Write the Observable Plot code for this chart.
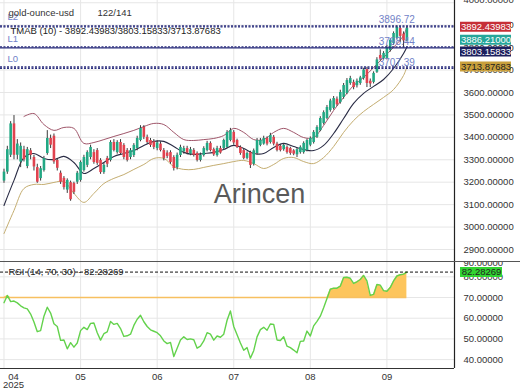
<!DOCTYPE html>
<html><head><meta charset="utf-8">
<script src="https://cdn.jsdelivr.net/npm/d3@7"></script>
<script src="https://cdn.jsdelivr.net/npm/@observablehq/plot@0.6"></script>
<style>
body{margin:0;background:#fff;}
#chart{width:520px;height:390px;overflow:hidden;background:#fff;}
#chart svg{display:block;overflow:hidden;}
</style></head><body><div id="chart"></div>
<script>
// ---------- data ----------
const symbolName = "gold-ounce-usd";
const barCount = "122/141";
const watermark = "Arincen";
const monthIdx = [0, 23, 46, 69, 92, 115];
const monthLabels = ["04", "05", "06", "07", "08", "09"];
const yearLabel = "2025";
const priceTicks = [2900, 3000, 3100, 3200, 3300, 3400, 3500, 3600, 3700, 3800, 3900, 4000];
const rsiTicks = [40, 50, 60, 70, 80];
const rsiTopLabel = "90.00000";

const open = [3205,3245,3320,3460,3320,3290,3345,3270,3340,3310,
 3265,3216,3252,3328,3395,3405,3297,3240,3217,3165,
 3198,3194,3200,3208,3252,3275,3310,3332,3341,3297,
 3243,3306,3297,3377,3332,3377,3364,3341,3310,3319,
 3350,3386,3444,3400,3386,3380,3350,3370,3341,3330,
 3332,3310,3265,3319,3335,3350,3325,3342,3328,3297,
 3319,3341,3373,3345,3319,3350,3350,3355,3386,3422,
 3386,3355,3341,3306,3332,3280,3328,3364,3370,3395,
 3377,3400,3370,3360,3345,3355,3350,3340,3322,3332,
 3332,3341,3365,3377,3400,3430,3462,3484,3520,3529,
 3570,3555,3578,3596,3640,3645,3630,3640,3662,3702,
 3650,3645,3690,3765,3750,3752,3787,3818,3841,3885,
 3860,3830];
const high = [3258,3360,3470,3497,3390,3375,3360,3355,3350,3320,
 3280,3270,3315,3430,3410,3415,3305,3250,3225,3215,
 3205,3200,3248,3295,3320,3340,3365,3345,3350,3305,
 3285,3315,3385,3390,3385,3390,3372,3350,3350,3372,
 3405,3452,3452,3410,3395,3390,3385,3380,3350,3340,
 3340,3318,3330,3365,3360,3360,3355,3350,3335,3330,
 3358,3382,3380,3352,3360,3360,3392,3430,3440,3430,
 3392,3362,3350,3335,3338,3348,3395,3395,3405,3402,
 3418,3408,3378,3368,3372,3362,3356,3345,3352,3362,
 3380,3392,3402,3430,3452,3492,3518,3542,3570,3582,
 3580,3610,3640,3662,3672,3655,3660,3672,3708,3712,
 3660,3692,3755,3790,3782,3810,3840,3870,3896.72,3893,
 3870,3892];
const low = [3195,3235,3310,3300,3300,3265,3290,3260,3300,3250,
 3195,3205,3245,3320,3350,3280,3250,3190,3165,3150,
 3115,3145,3190,3200,3245,3265,3300,3280,3275,3235,
 3235,3265,3290,3335,3325,3320,3300,3290,3300,3310,
 3340,3380,3390,3370,3355,3345,3340,3335,3295,3305,
 3280,3250,3255,3310,3325,3322,3318,3312,3290,3290,
 3312,3335,3335,3315,3312,3325,3345,3350,3380,3365,
 3350,3320,3300,3300,3261,3272,3320,3358,3365,3362,
 3370,3362,3335,3335,3338,3325,3320,3318,3310,3325,
 3325,3335,3358,3370,3395,3425,3455,3478,3512,3522,
 3538,3548,3570,3590,3632,3612,3620,3632,3655,3622,
 3622,3638,3685,3740,3745,3745,3780,3810,3835,3823,
 3798.44,3825];
const close = [3245,3345,3460,3320,3370,3360,3300,3345,3320,3268,
 3200,3260,3305,3395,3365,3290,3262,3200,3176,3208,
 3122,3155,3240,3288,3310,3332,3355,3288,3284,3243,
 3275,3280,3377,3341,3377,3328,3310,3297,3341,3364,
 3395,3440,3400,3377,3364,3355,3375,3341,3306,3315,
 3288,3261,3320,3355,3350,3330,3345,3320,3297,3320,
 3350,3373,3341,3322,3350,3330,3386,3422,3430,3375,
 3355,3328,3306,3328,3275,3340,3386,3386,3395,3370,
 3408,3370,3341,3341,3364,3332,3328,3325,3345,3355,
 3373,3386,3395,3422,3444,3484,3510,3533,3562,3573,
 3545,3600,3631,3653,3662,3622,3650,3665,3700,3640,
 3638,3685,3745,3748,3774,3800,3832,3863,3890,3850,
 3830,3886.21];

// TMA band (10) sampled along the bars
const bandIdx = [0,3,6,9,12,15,18,21,24,27,30,33,36,39,42,45,48,51,54,57,60,63,66,69,72,75,78,81,84,87,90,93,96,99,102,105,108,111,114,117,120,121];
const upper = [null,null,3493,3506,3457,3431,3444,3440,3373,3377,3390,3404,3417,3431,3448,3462,3457,3422,3390,3386,3390,3395,3408,3440,3422,3390,3390,3422,3440,3422,3399,3399,3453,3520,3578,3631,3667,3711,3756,3801,3854,3892.44];
const mid = [3096,3208,3310,3328,3306,3301,3315,3288,3239,3261,3288,3315,3328,3341,3364,3382,3382,3359,3333,3324,3328,3333,3346,3364,3350,3328,3328,3355,3373,3359,3346,3341,3364,3417,3484,3551,3596,3627,3658,3707,3774,3803.16];
const lower = [2971,3074,3172,3190,3190,3199,3203,3150,3110,3150,3194,3217,3234,3257,3279,3306,3306,3270,3257,3257,3266,3275,3283,3292,3297,3283,3261,3279,3306,3310,3292,3283,3310,3359,3422,3475,3515,3547,3578,3613,3676,3713.88];

const rsi = [67.5,71,68,68.3,67.4,66,65,64.5,62,58.2,
 53.5,54,61,65.3,62.5,57.3,56,49.3,49.5,45.2,
 48.2,46,48,54,55.6,54.5,57.5,57.7,53,49.4,
 52.5,53.4,58.4,57,57.5,55,51.2,51.5,52.3,56.5,
 59.5,61.4,58.3,56,54.4,53.7,53,51.5,49,47.7,
 48.3,41.5,45.5,49.5,51,49.7,50,49.6,45.5,46.5,
 49,53,52.3,49.4,51.4,50.8,52.3,59,63.5,56,
 52,48,44.5,45.8,40.7,44.3,51,54.5,55.6,54.2,
 57.2,57,49.5,49.2,51,46.5,45.8,44.6,43.3,48.8,
 49,53.8,51.4,56.3,58.5,61,65,69.5,74,74.5,
 74.5,75.5,79.7,79.8,79.3,76.8,77.6,78.7,80.7,78,
 71,71.5,76.3,76,73.3,73,74.8,78,80.4,81,
 81.3,82.28269];

const levelNames = ["L2", "L1", "L0"];
const levelValues = [3896.72, 3798.44, 3707.39];
const levelText = ["3896.72", "3798.44", "3707.39"];
const tmabName = "TMAB (10)";
const tmabLast = [3892.43983, 3803.15833, 3713.87683];
const lastClose = 3886.21;
const rsiName = "RSI (14, 70, 30)";
const rsiLast = 82.28269;
const rsiLevel = 70;

// ---------- drawing ----------
const FONT = "'Liberation Sans', Arial, sans-serif";
const fmt5 = d3.format(".5f");
const xDomain = [-1.05, 135.3];
const frameW = 454;
const pxX = px => xDomain[0] + px * (xDomain[1] - xDomain[0]) / frameW; // label column helper
const GREEN = "#22a884", RED = "#e0434f", NAVY = "#2b2e7e", LBLUE = "#7282c8";

const bars = close.map((c, i) => ({i, o: open[i], h: high[i], l: low[i], c}));
const bands = bandIdx.map((i, k) => ({i, u: upper[k], m: mid[k], lo: lower[k]}));
const rsiRows = rsi.map((r, i) => ({i, r}));
const levels = levelNames.map((n, k) => ({n, v: levelValues[k], t: levelText[k]}));
const lastI = close.length - 1;
const topTick = priceTicks[priceTicks.length - 1];

const boxes = [
  {v: tmabLast[0], t: fmt5(tmabLast[0]), bg: "#c62f36", fg: "#fff", dy: 0},
  {v: lastClose, t: fmt5(lastClose), bg: "#26a69a", fg: "#fff", dy: 11.5},
  {v: tmabLast[1], t: fmt5(tmabLast[1]), bg: "#1d205e", fg: "#fff", dy: 4.6},
  {v: tmabLast[2], t: fmt5(tmabLast[2]), bg: "#c9a03c", fg: "#222", dy: -0.4}
];
const boxMarks = boxes.flatMap(b => [
  Plot.ruleY([b], {y: "v", x1: () => pxX(460), x2: () => pxX(511), stroke: b.bg, strokeWidth: 10, dy: b.dy}),
  Plot.text([b], {x: () => pxX(485.5), y: "v", text: "t", dy: b.dy, fill: b.fg, fontSize: 9.5})
]);

const p1 = Plot.plot({
  width: 520, height: 261,
  marginLeft: 0, marginRight: 66, marginTop: 0, marginBottom: 0,
  x: {domain: xDomain, axis: null},
  y: {domain: [2846.5, 4010], axis: null},
  style: {fontFamily: FONT, fontSize: "9.5px", color: "#333", background: "#fff", overflow: "hidden"},
  marks: [
    Plot.gridY(priceTicks, {stroke: "#e6e6e6", strokeOpacity: 1}),
    Plot.gridX(monthIdx, {stroke: "#e6e6e6", strokeOpacity: 1}),
    Plot.text([watermark], {text: d => d, frameAnchor: "middle", dx: 32, dy: 63, fontSize: 27, fill: "#5a5a5a"}),
    Plot.line(bands, {x: "i", y: "u", stroke: "#a0566a", strokeWidth: 1, curve: "catmull-rom"}),
    Plot.line(bands, {x: "i", y: "m", stroke: "#2a2c45", strokeWidth: 1.1, curve: "catmull-rom"}),
    Plot.line(bands, {x: "i", y: "lo", stroke: "#c4ad70", strokeWidth: 1, curve: "catmull-rom"}),
    Plot.ruleX(bars, {x: "i", y1: "l", y2: "h", stroke: "#3a3a3a", strokeWidth: 1}),
    Plot.ruleX(bars, {x: "i", y1: "o", y2: "c", stroke: d => d.c >= d.o ? GREEN : RED, strokeWidth: 2.6}),
    Plot.ruleY([tmabLast[0], tmabLast[1], tmabLast[2]], {stroke: NAVY, strokeWidth: 1.4, strokeDasharray: "2,1.5"}),
    Plot.ruleY([levelValues[0], levelValues[2]], {stroke: NAVY, strokeWidth: 1.4, strokeDasharray: "2,1.5"}),
    Plot.ruleY([levelValues[1]], {stroke: NAVY, strokeWidth: 1.2}),
    Plot.text(levels, {y: "v", text: "n", frameAnchor: "left", dx: 7, dy: -9, fill: LBLUE, fontSize: 9.5}),
    Plot.text(levels, {x: () => lastI, y: "v", text: "t", textAnchor: "end", dx: 8, dy: -6, fill: LBLUE, fontSize: 10}),
    Plot.text([symbolName], {text: d => d, frameAnchor: "top-left", dx: 8, dy: 12, lineAnchor: "middle", fill: "#333"}),
    Plot.text([barCount], {text: d => d, frameAnchor: "top-left", dx: 97, dy: 12, lineAnchor: "middle", fill: "#333"}),
    Plot.text([`${tmabName} - ${tmabLast.map(fmt5).join("/")}`], {text: d => d, frameAnchor: "top-left", dx: 10, dy: 30, lineAnchor: "middle", fill: "#222"}),
    Plot.axisY(priceTicks.filter(t => t !== topTick), {anchor: "right", tickSize: 0, tickPadding: 9, tickFormat: fmt5, label: null, fill: "#333"}),
    Plot.axisY([topTick], {anchor: "right", tickSize: 0, tickPadding: 9, tickFormat: fmt5, label: null, fill: "#333", dy: -2.5}),
    Plot.ruleX([xDomain[1]], {stroke: "#222", strokeWidth: 1.2}),
    ...boxMarks
  ]
});

const p2 = Plot.plot({
  width: 520, height: 129,
  marginLeft: 0, marginRight: 66, marginTop: 0, marginBottom: 22,
  x: {domain: xDomain, axis: null},
  y: {domain: [35.7, 87.4], axis: null},
  style: {fontFamily: FONT, fontSize: "9.5px", color: "#333", background: "#fff", overflow: "hidden"},
  marks: [
    Plot.gridY(rsiTicks, {stroke: "#e6e6e6", strokeOpacity: 1}),
    Plot.gridX(monthIdx, {stroke: "#e6e6e6", strokeOpacity: 1}),
    Plot.areaY(rsiRows, {x: "i", y1: () => rsiLevel, y2: d => Math.max(d.r, rsiLevel), fill: "#fdc55c", fillOpacity: 1}),
    Plot.ruleY([rsiLevel], {x1: () => pxX(0), x2: () => lastI, stroke: "#f7c060", strokeWidth: 1.3}),
    Plot.lineY(rsiRows, {x: "i", y: "r", stroke: "#63d24c", strokeWidth: 1.4}),
    Plot.ruleY([rsiLast], {stroke: "#111", strokeWidth: 1, strokeDasharray: "3,2"}),
    Plot.text([`${rsiName} - ${fmt5(rsiLast)}`], {text: d => d, y: () => rsiLast, frameAnchor: "left", dx: 8, fill: "#222"}),
    Plot.axisY(rsiTicks, {anchor: "right", tickSize: 0, tickPadding: 9, tickFormat: fmt5, label: null, fill: "#333"}),
    Plot.text([rsiTopLabel], {text: d => d, frameAnchor: "top-right", dx: 9, dy: 1, textAnchor: "start", lineAnchor: "middle", fill: "#333"}),
    Plot.ruleY([rsiLast], {x1: () => pxX(460), x2: () => pxX(502), stroke: "#31d431", strokeWidth: 10}),
    Plot.text([fmt5(rsiLast)], {text: d => d, x: () => pxX(481), y: () => rsiLast, fill: "#222"}),
    Plot.ruleX([xDomain[1]], {stroke: "#222", strokeWidth: 1.2}),
    Plot.ruleY([35.7], {stroke: "#333", strokeWidth: 1}),
    Plot.ruleY([87.4], {x1: () => pxX(0), x2: () => pxX(520), stroke: "#555", strokeWidth: 1}),
    Plot.text(monthLabels.slice(1), {text: d => d, x: (d, k) => monthIdx[k + 1], frameAnchor: "bottom", dy: 8, lineAnchor: "middle", fill: "#333"}),
    Plot.text([monthLabels[0]], {text: d => d, x: () => monthIdx[0], frameAnchor: "bottom", dx: 9.5, dy: 8, lineAnchor: "middle", fill: "#333"}),
    Plot.text([yearLabel], {text: d => d, x: () => monthIdx[0], frameAnchor: "bottom", dx: 9.5, dy: 16, lineAnchor: "middle", fill: "#333"})
  ]
});

const root = document.getElementById("chart");
root.appendChild(p1);
root.appendChild(p2);
</script></body></html>
